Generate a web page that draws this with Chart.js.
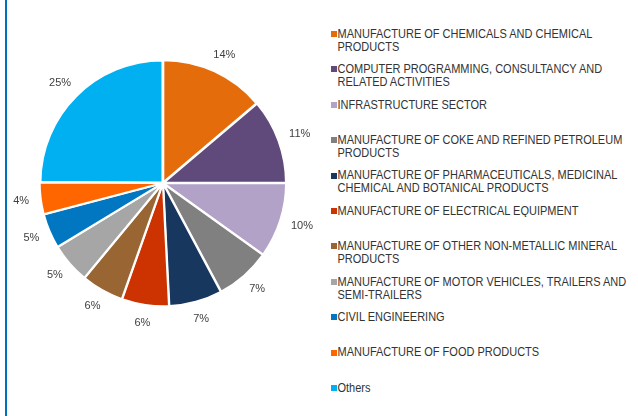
<!DOCTYPE html>
<html>
<head>
<meta charset="utf-8">
<script src="https://cdn.jsdelivr.net/npm/chart.js@4"></script>
<style>
  html, body { margin: 0; padding: 0; background: #fff; }
  body { width: 638px; height: 416px; position: relative; overflow: hidden;
         font-family: "Liberation Sans", Arial, sans-serif; }
  #border { position: absolute; left: 5px; top: 0; width: 2px; height: 416px; background: #0070C0; }
  #wrap { position: absolute; left: 0; top: 0; width: 326px; height: 366px; }
  #legend { position: absolute; left: 330px; top: 27.8px; width: 308px; }
  .item { position: relative; height: 35.4px; }
  .box { position: absolute; left: 0.5px; top: 3.2px; width: 6px; height: 6px; }
  .txt { position: absolute; left: 7.5px; top: 0; width: 300px; font-size: 11px; line-height: 11.6px;
         color: #333333; transform: scaleY(1.09); transform-origin: 0 0; }
</style>
</head>
<body>
<div id="border"></div>
<div id="wrap"><canvas id="c"></canvas></div>
<div id="legend"></div>
<script>
const categories = [
  "MANUFACTURE OF CHEMICALS AND CHEMICAL PRODUCTS",
  "COMPUTER PROGRAMMING, CONSULTANCY AND RELATED ACTIVITIES",
  "INFRASTRUCTURE SECTOR",
  "MANUFACTURE OF COKE AND REFINED PETROLEUM PRODUCTS",
  "MANUFACTURE OF PHARMACEUTICALS, MEDICINAL CHEMICAL AND BOTANICAL PRODUCTS",
  "MANUFACTURE OF ELECTRICAL EQUIPMENT",
  "MANUFACTURE OF OTHER NON-METALLIC MINERAL PRODUCTS",
  "MANUFACTURE OF MOTOR VEHICLES, TRAILERS AND SEMI-TRAILERS",
  "CIVIL ENGINEERING",
  "MANUFACTURE OF FOOD PRODUCTS",
  "Others"
];
const shares = [13.8, 11.2, 9.9, 7.3, 7.0, 6.2, 5.6, 5.3, 4.6, 4.2, 24.9];
const colors = ["#E46C0A", "#604A7B", "#B3A2C7", "#808080", "#17375E", "#CC3300",
                "#996633", "#A6A6A6", "#0077C0", "#FF6600", "#00B0F0"];

const labelPlugin = {
  id: 'pctLabels',
  afterDatasetsDraw(chart) {
    const ctx = chart.ctx;
    const meta = chart.getDatasetMeta(0);
    const data = chart.data.datasets[0].data;
    const total = data.reduce((a, b) => a + b, 0);
    ctx.save();
    ctx.font = '11px "Liberation Sans", Arial, sans-serif';
    ctx.fillStyle = '#404040';
    ctx.textAlign = 'center';
    ctx.textBaseline = 'middle';
    meta.data.forEach((arc, i) => {
      const p = arc.getProps(['x', 'y', 'startAngle', 'endAngle', 'outerRadius'], true);
      const mid = (p.startAngle + p.endAngle) / 2;
      const txt = Math.round(data[i] / total * 100) + '%';
      const w = ctx.measureText(txt).width;
      const h = 12;
      const r = p.outerRadius + 13;
      const c = Math.cos(mid), s = Math.sin(mid);
      const x = p.x + c * r + c * w / 2;
      const y = p.y + s * r + s * h / 2;
      ctx.fillText(txt, x, y);
    });
    ctx.restore();
  }
};

new Chart(document.getElementById('c'), {
  type: 'pie',
  data: {
    labels: categories,
    datasets: [{
      data: shares,
      backgroundColor: colors,
      borderColor: '#ffffff',
      borderWidth: 2,
      offset: 3,
      hoverOffset: 3
    }]
  },
  options: {
    responsive: true,
    maintainAspectRatio: false,
    animation: false,
    radius: 122,
    layout: { padding: 0 },
    plugins: {
      legend: { display: false },
      tooltip: { enabled: false }
    }
  },
  plugins: [labelPlugin]
});

const legend = document.getElementById('legend');
categories.forEach((name, i) => {
  const item = document.createElement('div');
  item.className = 'item';
  const box = document.createElement('div');
  box.className = 'box';
  box.style.background = colors[i];
  const txt = document.createElement('div');
  txt.className = 'txt';
  txt.textContent = name;
  item.appendChild(box);
  item.appendChild(txt);
  legend.appendChild(item);
});
</script>
</body>
</html>
